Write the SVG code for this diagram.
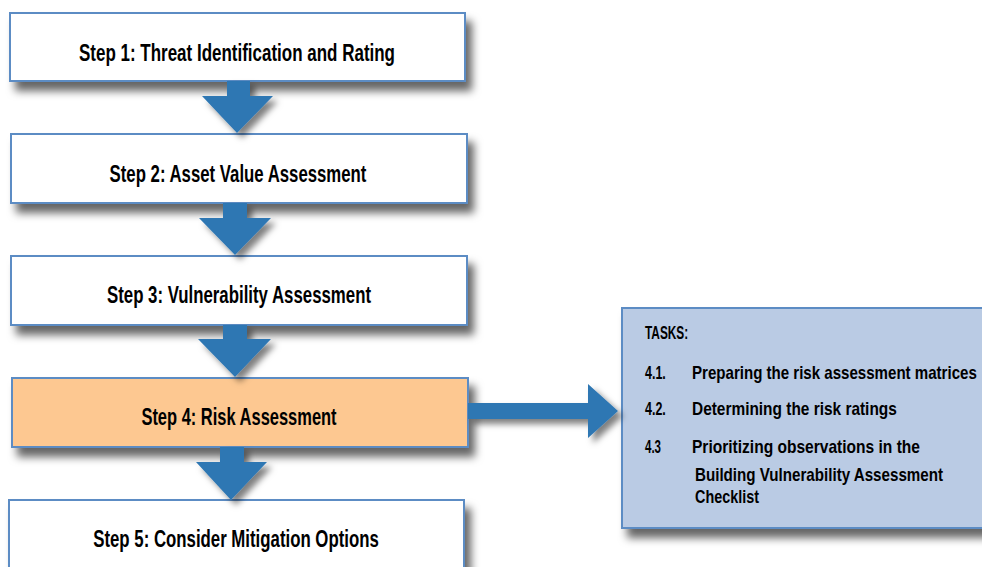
<svg xmlns="http://www.w3.org/2000/svg" width="982" height="567" viewBox="0 0 982 567">
<defs>
<filter id="sh" x="-10%" y="-20%" width="130%" height="160%">
<feDropShadow dx="6" dy="9" stdDeviation="4.5" flood-color="#000" flood-opacity="0.6"/>
</filter>
<filter id="ash" x="-30%" y="-30%" width="170%" height="170%">
<feDropShadow dx="5" dy="5" stdDeviation="3" flood-color="#000" flood-opacity="0.5"/>
</filter>
</defs>
<style>
.box{fill:#fff;stroke:#5B8CC4;stroke-width:2}
.risk{fill:#FDC891;stroke:#5B8CC4;stroke-width:2}
.tasks{fill:#BACBE4;stroke:#5B8CC4;stroke-width:2}
.arrow{fill:#2F77B3}
.lbl{font-family:"Liberation Sans",Arial,sans-serif;font-weight:bold;font-size:23px;fill:#000;text-anchor:middle}
.t{font-family:"Liberation Sans",Arial,sans-serif;font-weight:bold;font-size:18px;fill:#000}
</style>
<rect width="982" height="567" fill="#fff"/>
<g id="step1">
<rect class="box" x="10" y="13" width="455" height="68" filter="url(#sh)"/>
<text class="lbl" transform="translate(237,61) scale(0.8,1)" textLength="395" lengthAdjust="spacingAndGlyphs">Step 1: Threat Identification and Rating</text>
</g>
<g id="step2">
<rect class="box" x="11" y="134" width="456" height="69" filter="url(#sh)"/>
<text class="lbl" transform="translate(238,182) scale(0.8,1)" textLength="321" lengthAdjust="spacingAndGlyphs">Step 2: Asset Value Assessment</text>
</g>
<g id="step3">
<rect class="box" x="11" y="256" width="456" height="69" filter="url(#sh)"/>
<text class="lbl" transform="translate(239,303) scale(0.8,1)" textLength="330" lengthAdjust="spacingAndGlyphs">Step 3: Vulnerability Assessment</text>
</g>
<g id="step4">
<rect class="risk" x="12" y="378" width="456" height="69" filter="url(#sh)"/>
<text class="lbl" transform="translate(239,425) scale(0.8,1)" textLength="244" lengthAdjust="spacingAndGlyphs">Step 4: Risk Assessment</text>
</g>
<g id="step5">
<rect class="box" x="9" y="500" width="455" height="90" filter="url(#sh)"/>
<text class="lbl" transform="translate(236,547) scale(0.8,1)" textLength="357" lengthAdjust="spacingAndGlyphs">Step 5: Consider Mitigation Options</text>
</g>
<g id="tasks">
<rect class="tasks" x="622" y="308" width="380" height="220" filter="url(#sh)"/>
<text class="t" transform="translate(645,339) scale(0.8,1)" textLength="54" lengthAdjust="spacingAndGlyphs">TASKS:</text>
<text class="t" transform="translate(645,379) scale(0.8,1)" textLength="26" lengthAdjust="spacingAndGlyphs">4.1.</text>
<text class="t" transform="translate(692,379) scale(0.8,1)" textLength="356" lengthAdjust="spacingAndGlyphs">Preparing the risk assessment matrices</text>
<text class="t" transform="translate(645,415) scale(0.8,1)" textLength="26" lengthAdjust="spacingAndGlyphs">4.2.</text>
<text class="t" transform="translate(692,415) scale(0.8,1)" textLength="256" lengthAdjust="spacingAndGlyphs">Determining the risk ratings</text>
<text class="t" transform="translate(645,453) scale(0.8,1)" textLength="20" lengthAdjust="spacingAndGlyphs">4.3</text>
<text class="t" transform="translate(692,453) scale(0.8,1)" textLength="285" lengthAdjust="spacingAndGlyphs">Prioritizing observations in the</text>
<text class="t" transform="translate(695,481) scale(0.8,1)" textLength="310" lengthAdjust="spacingAndGlyphs">Building Vulnerability Assessment</text>
<text class="t" transform="translate(695,503) scale(0.8,1)" textLength="80" lengthAdjust="spacingAndGlyphs">Checklist</text>
</g>
<g id="connectors">
<polygon class="arrow" filter="url(#ash)" points="227,81 250,81 250,96 273,96 237,133 202,96 227,96"/>
<polygon class="arrow" filter="url(#ash)" points="223,203 247,203 247,218 271,218 235,255 199,218 223,218"/>
<polygon class="arrow" filter="url(#ash)" points="223,325 247,325 247,339 271,339 235,377 198,339 223,339"/>
<polygon class="arrow" filter="url(#ash)" points="220,447 244,447 244,462 267,462 231,500 196,462 220,462"/>
<polygon class="arrow" filter="url(#ash)" points="468,403 588,403 588,384 618,411 588,438 588,419 468,419"/>
</g>
</svg>
